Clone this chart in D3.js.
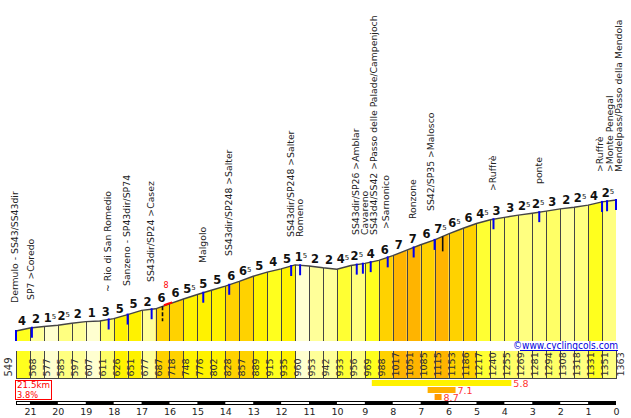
<!DOCTYPE html>
<html><head><meta charset="utf-8">
<script src="https://cdn.jsdelivr.net/npm/d3@7/dist/d3.min.js"></script>
<style>html,body{margin:0;padding:0;background:#fff}svg{display:block}text{font-family:"DejaVu Sans",sans-serif}</style>
</head><body><svg id="c" width="631" height="418"></svg>
<script>
const elevations=[549,568,577,585,597,607,611,626,651,677,687,718,748,776,802,828,857,889,915,935,960,953,942,933,956,969,988,1017,1051,1085,1115,1153,1186,1217,1240,1255,1269,1281,1294,1308,1318,1331,1351,1363];
const gradients=[4,2,1.5,2.5,2,1,3,5,5,2,6,6,5.5,5,5,6,6.5,5,4,5,1.5,2,2,4.5,2.5,4,6,7,7,6,7.5,6.5,6,4.5,3,3,2.5,2.5,3,2,2.5,4,2.5];
const kmTicks=[21,20,19,18,17,16,15,14,13,12,11,10,9,8,7,6,5,4,3,2,1,0];
const totalKm=21.5;
const blueMarks=[21.5,20.93,18.18,17.5,16.64,14.79,13.86,11.64,11.32,9.29,9.07,8.79,8.18,7.25,6.5,4.39,2.75,0.5,0.32,0];
const blackMarks=[16.25,6.21];
const waypointNames=["Dermulo - SS43/SS43dir","SP7 >Coredo","~ Rio di San Romedio","Sanzeno - SP43dir/SP74","SS43dir/SP24 >Casez","Malgolo","SS43dir/SP248 >Salter","SS43dir/SP248 >Salter","Romeno","SS43dir/SP26 >Amblar","Cavareno","SS43d4/SS42 >Passo delle Palade/Campenjoch",">Sarnonico","Ronzone","SS42/SP35 >Malosco",">Ruffrè","ponte",">Ruffrè",">Monte Penegal","Mendelpass/Passo della Mendola"];
const waypointKm=[21.5,20.93,18.18,17.5,16.64,14.79,13.86,11.64,11.32,9.29,8.97,8.65,8.21,7.25,6.61,4.39,2.75,0.57,0.21,-0.14];
const climbKm=[[8.75,3.75],[6.75,5.75],[6.5,6.25]];
const climbGrades=[5.8,7.1,8.7];
const summaryLines=["21.5km","3.8%"];
const site="©www.cyclingcols.com";

const svg=d3.select("#c");
const x=d3.scaleLinear().domain([totalKm,0]).range([16,616]);
const y=d3.scaleLinear().domain([549,1363]).range([331,200]);
const kmOf=i=>totalKm-i*0.5;
const elevAt=d3.scaleLinear().domain(elevations.map((d,i)=>kmOf(i))).range(elevations);
const base=341;
const color=g=>g<2?"#FFFFD0":g<2.5?"#FFFF99":g<3?"#FFFF80":g<4?"#FFFF66":g<4.5?"#FFFF1E":g<5?"#FFFF33":g<6?"#FFF200":g<7?"#FFD200":"#FFB400";
const ink="#444";

const area=d3.area().x(d=>x(d.k)).y0(base).y1(d=>y(d.e)).curve(d3.curveLinear);
gradients.forEach((g,i)=>{
  svg.append("path").datum([{k:kmOf(i),e:elevations[i]},{k:kmOf(i+1),e:elevations[i+1]}]).attr("d",area).attr("fill",color(g));
  svg.append("rect").attr("x",x(kmOf(i))).attr("width",x(kmOf(i+1))-x(kmOf(i))).attr("y",351).attr("height",27).attr("fill",color(g));
});
elevations.forEach((e,i)=>{
  if(i===0||i===elevations.length-1)return;
  const px=Math.round(x(kmOf(i)))+.5;
  svg.append("line").attr("x1",px).attr("x2",px).attr("y1",y(e)).attr("y2",base).attr("stroke",ink).attr("stroke-width",1);
  svg.append("line").attr("x1",px).attr("x2",px).attr("y1",351).attr("y2",378).attr("stroke",ink).attr("stroke-width",1);
});
[16,616].forEach(v=>svg.append("line").attr("x1",v+.5).attr("x2",v+.5).attr("y1",351).attr("y2",378).attr("stroke",ink));
svg.append("line").attr("x1",16).attr("x2",617).attr("y1",378.5).attr("y2",378.5).attr("stroke",ink);
svg.append("path").datum(elevations.map((e,i)=>({k:kmOf(i),e})))
  .attr("d",d3.line().x(d=>x(d.k)).y(d=>y(d.e))).attr("fill","none").attr("stroke",ink).attr("stroke-width",1.4);
svg.append("path").datum([16.2,16.05,15.9]).attr("d",d3.line().x(k=>x(k)).y(k=>y(elevAt(k))-0.5)).attr("fill","none").attr("stroke","#f00").attr("stroke-width",2);
svg.append("text").attr("x",x(16.05)-2).attr("y",288).attr("font-size",8).attr("fill","#f00").attr("text-anchor","middle").text("8");
blueMarks.forEach(k=>{const yy=y(elevAt(k));svg.append("line").attr("x1",x(k)).attr("x2",x(k)).attr("y1",yy-1).attr("y2",yy+10).attr("stroke","#0000f0").attr("stroke-width",2);});
blackMarks.forEach((k,i)=>{const yy=y(elevAt(k));svg.append("line").attr("x1",x(k)).attr("x2",x(k)).attr("y1",yy).attr("y2",yy+15).attr("stroke","#111").attr("stroke-width",1.6).attr("stroke-dasharray",i===0?"4 2":null);});
gradients.forEach((g,i)=>{
  const km=kmOf(i+.5),whole=Math.floor(g),half=g!==whole;
  const t=svg.append("text").attr("x",x(km)-1).attr("y",y(elevAt(km))-4).attr("text-anchor","middle")
    .attr("font-size",11.5).attr("font-weight","bold").attr("fill","#111");
  t.append("tspan").text(whole);
  if(half)t.append("tspan").attr("font-size",7).attr("font-weight","normal").attr("dy",-3).text("5");
});
const waypointFoot=[303,300,292,286,282,263,256,237,237,235,235,235,229,219,211,191,184,172,172,172];
waypointNames.forEach((n,i)=>{
  const px=x(waypointKm[i])+(i===0?1.5:2.5);
  svg.append("text").attr("transform",`translate(${px},${waypointFoot[i]}) rotate(-90)`).attr("font-size",9.3).attr("fill","#222").text(n);
});
elevations.forEach((e,i)=>{
  let px=x(kmOf(i))+6, fs=9.5;
  if(i===0){px=x(kmOf(0))-4;fs=10;}
  if(i===elevations.length-1){px=x(kmOf(i))+8;}
  svg.append("text").attr("transform",`translate(${px},376.5) rotate(-90)`).attr("font-size",fs).attr("fill","#333").text(e);
});
svg.append("text").attr("x",513).attr("y",349).attr("font-size",10).attr("fill","#0000e0").attr("textLength",105).attr("lengthAdjust","spacingAndGlyphs").text(site);
svg.append("line").attr("x1",520).attr("x2",618).attr("y1",350.5).attr("y2",350.5).attr("stroke","#0000e0");
svg.append("rect").attr("x",15.5).attr("y",380.5).attr("width",36).attr("height",19).attr("fill","#fff").attr("stroke","#f00");
summaryLines.forEach((s,i)=>svg.append("text").attr("x",17).attr("y",388+i*9.7).attr("font-size",8.2).attr("fill","#f00").attr("textLength",i===0?33:21).attr("lengthAdjust","spacingAndGlyphs").text(s));
const climbColors=["#FFF200","#FFB000","#FF9800"];
climbKm.forEach((c,i)=>{
  svg.append("rect").attr("x",x(c[0])).attr("width",x(c[1])-x(c[0])).attr("y",380+i*7).attr("height",6).attr("fill",climbColors[i]);
  svg.append("text").attr("x",x(c[1])+2).attr("y",386.5+i*7).attr("font-size",9.5).attr("fill","#f33").text(climbGrades[i]);
});
svg.append("rect").attr("x",16).attr("y",401).attr("width",600).attr("height",4).attr("fill","#fff");
d3.range(0,22,2).forEach(k=>svg.append("rect").attr("x",x(k+1)).attr("width",x(k)-x(k+1)).attr("y",401).attr("height",4).attr("fill","#000"));
svg.append("rect").attr("x",16.5).attr("y",401.5).attr("width",599).attr("height",3).attr("fill","none").attr("stroke","#000");
const ax=svg.append("g").attr("transform","translate(0,405)").call(d3.axisBottom(x).tickValues(kmTicks).tickSize(0).tickPadding(3).tickFormat(d3.format("d")));
ax.select(".domain").remove();
ax.selectAll("text").attr("font-size",9.5).attr("font-family","DejaVu Sans").attr("fill","#222");
</script></body></html>
